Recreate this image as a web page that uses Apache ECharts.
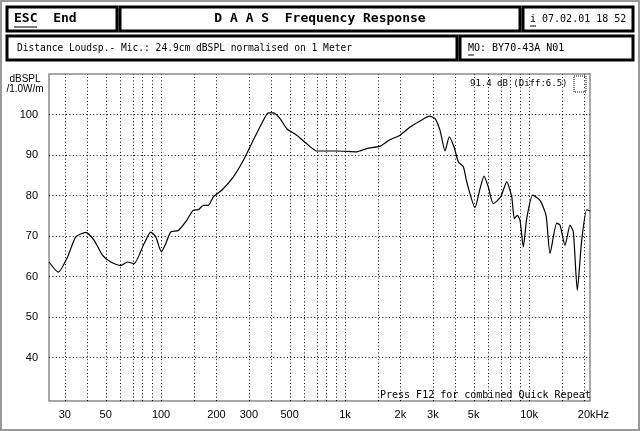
<!DOCTYPE html>
<html><head><meta charset="utf-8">
<script src="https://cdn.jsdelivr.net/npm/echarts@6/dist/echarts.min.js"></script>
<style>html,body{margin:0;padding:0;background:#fff}#c{width:640px;height:431px}</style>
</head><body><div id="c"></div>
<script>
// Frequency (Hz) and level (dBSPL / 1.0W/m)
const freqs = [24.6, 27.6, 31.0, 34.4, 39.0, 43.2, 48.0, 53.3, 60.4, 65.6, 71.3, 80.8, 87.9, 93.6, 100.4, 106.0,
  112.9, 124.2, 137.9, 149.8, 159.5, 169.8, 180.7, 192.4, 213.7, 247.2, 280.2, 317.5, 352.5, 383.0, 407.6,
  443.3, 482.1, 546.4, 619.2, 701.8, 901.2, 1158, 1312, 1550, 1756, 1990, 2256, 2556, 2872, 3084, 3283,
  3495, 3688, 3912, 4129, 4395, 4586, 5087, 5416, 5694, 6008, 6397, 7019, 7565, 8054, 8322, 8640, 8936,
  9312, 9716, 10474, 11476, 12374, 13007, 14143, 14739, 15695, 16706, 17411, 18299, 19336, 20589, 21456];
const spl = [63.6, 61.1, 64.8, 69.8, 70.9, 69.0, 65.3, 63.6, 62.7, 63.6, 63.2, 68.1, 71.0, 69.8, 66.1, 68.1,
  71.0, 71.4, 73.9, 76.4, 76.5, 77.6, 77.6, 79.7, 81.3, 84.6, 88.7, 93.7, 97.8, 100.4, 100.4,
  99.0, 96.5, 94.9, 92.8, 91.0, 91.0, 90.8, 91.6, 92.2, 93.8, 94.9, 96.9, 98.4, 99.6, 99.0, 96.1,
  91.0, 94.5, 92.0, 88.3, 87.1, 83.4, 77.0, 81.7, 84.8, 82.1, 78.0, 79.7, 83.4, 79.7, 74.3, 75.1, 73.9,
  67.3, 74.3, 80.1, 78.8, 75.1, 65.7, 73.2, 72.7, 67.7, 72.7, 71.0, 56.6, 69.0, 76.5, 76.2];
const xLabelFreqs = [30, 50, 100, 200, 300, 500, 1000, 2000, 3000, 5000, 10000, 20000];
const xGridFreqs = [30, 40, 50, 60, 70, 80, 90, 100, 150, 200, 300, 400, 500, 600, 700, 800, 900, 1000,
  1500, 2000, 3000, 4000, 5000, 6000, 7000, 8000, 9000, 10000, 15000, 20000];
const yTicks = [40, 50, 60, 70, 80, 90, 100];
const fMin = 24.6, fMax = 21450, yMin = 29.3, yMax = 110;

const MONO = '"DejaVu Sans Mono", "Liberation Mono", monospace';
const SANS = '"Liberation Sans", Arial, sans-serif';
const lg = Math.log10;

const chart = echarts.init(document.getElementById('c'), null, {renderer: 'canvas'});

function fmtFreq(v) {
  const f = Math.round(Math.pow(10, v));
  if (f >= 20000) return '{hz|20kHz}';
  if (f >= 1000) return (f / 1000) + 'k';
  return String(f);
}

const gridLineStyle = {color: '#000', width: 1, type: [1, 2.4]};

function box(x, y, w, h) {
  return {type: 'rect', shape: {x: x, y: y, width: w, height: h},
    style: {fill: '#fff', stroke: '#000', lineWidth: 3}, z: 10};
}
function txt(x, y, s, opts) {
  return {type: 'text', x: x, y: y, z: 20,
    style: Object.assign({text: s, fill: '#000', font: '10px ' + MONO, verticalAlign: 'middle'}, opts || {})};
}
function uline(x1, x2, y) {
  return {type: 'line', shape: {x1: x1, y1: y, x2: x2, y2: y}, style: {stroke: '#000', lineWidth: 1}, z: 20};
}

chart.setOption({
  animation: false,
  backgroundColor: '#fff',
  grid: {left: 49, right: 50, top: 74, bottom: 30, show: true, borderColor: '#8a8a8a', borderWidth: 1.5, backgroundColor: 'transparent'},
  xAxis: {
    type: 'value', min: lg(fMin), max: lg(fMax),
    axisLine: {show: false}, axisTick: {show: false}, splitLine: {show: false},
    axisLabel: {
      customValues: xLabelFreqs.map(lg), formatter: fmtFreq,
      color: '#000', fontFamily: SANS, fontSize: 11, margin: 8,
      rich: {hz: {fontFamily: SANS, fontSize: 11, color: '#000', padding: [0, 0, 0, 18]}}
    }
  },
  yAxis: {
    type: 'value', min: yMin, max: yMax,
    axisLine: {show: false}, axisTick: {show: false}, splitLine: {show: false},
    axisLabel: {customValues: yTicks, color: '#000', fontFamily: SANS, fontSize: 11, margin: 11}
  },
  series: [{
    type: 'line',
    data: freqs.map((f, i) => [lg(f), spl[i]]),
    showSymbol: false, smooth: 0.2,
    lineStyle: {color: '#000', width: 1.2},
    z: 5,
    markLine: {
      silent: true, symbol: 'none', label: {show: false}, animation: false,
      lineStyle: gridLineStyle,
      data: xGridFreqs.map(f => ({xAxis: lg(f)})).concat(yTicks.map(v => ({yAxis: v})))
    }
  }],
  graphic: [
    {type: 'rect', shape: {x: 1, y: 1, width: 638, height: 429}, style: {fill: null, stroke: '#999', lineWidth: 2}, z: 1},
    box(7, 7, 110, 24), box(120, 7, 400, 24), box(523, 7, 110, 24),
    box(7, 36, 450, 24), box(460, 36, 173, 24),
    txt(14, 19, 'ESC  End', {font: 'bold 13px ' + MONO}), uline(14, 37, 27),
    txt(320, 19, 'D A A S  Frequency Response', {font: 'bold 13px ' + MONO, align: 'center'}),
    txt(530, 19, 'i 07.02.01 18 52', {font: '10px ' + MONO}), uline(530, 536, 26),
    txt(17, 48, 'Distance Loudsp.- Mic.: 24.9cm dBSPL normalised on 1 Meter', {font: '9.6px ' + MONO}),
    txt(468, 48, 'MO: BY70-43A N01', {font: '10px ' + MONO}), uline(468, 474, 55),
    txt(25, 79, 'dBSPL', {font: '10px ' + SANS, align: 'center'}),
    txt(25, 89, '/1.0W/m', {font: '10px ' + SANS, align: 'center'}),
    txt(470, 84, '91.4 dB (Diff:6.5)', {font: '9px ' + MONO}),
    {type: 'rect', shape: {x: 574, y: 76, width: 12, height: 16}, style: {fill: null, stroke: '#000', lineWidth: 1, lineDash: [1, 1]}, z: 20},
    txt(380, 395, 'Press F12 for combined Quick Repeat', {font: '10px ' + MONO})
  ]
});
</script></body></html>
